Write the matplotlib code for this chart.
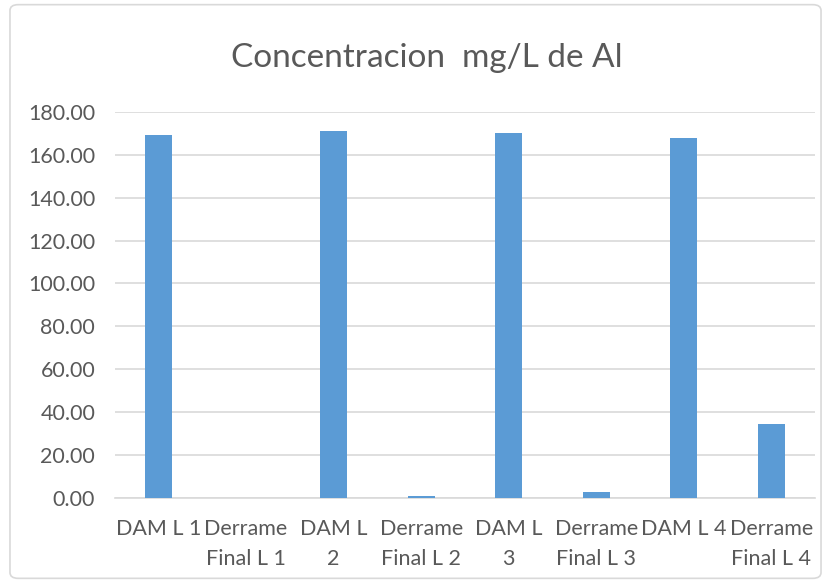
import matplotlib
matplotlib.use("Agg")
import matplotlib.pyplot as plt
from matplotlib.patches import FancyBboxPatch

categories = ["DAM L 1", "Derrame\nFinal L 1", "DAM L\n2", "Derrame\nFinal L 2",
              "DAM L\n3", "Derrame\nFinal L 3", "DAM L 4", "Derrame\nFinal L 4"]
values = [169.3, 0.0, 171.2, 1.0, 170.2, 2.8, 167.9, 34.5]
yticks = [0, 20, 40, 60, 80, 100, 120, 140, 160, 180]

plt.rcParams["font.family"] = ["Lato", "DejaVu Sans"]
grey = "#595959"

fig = plt.figure(figsize=(8.31, 5.83), dpi=100)
ax = fig.add_axes([0.138, 0.146, 0.843, 0.662])

x = range(len(categories))
ax.bar(x, values, width=0.31, color="#5b9bd5", zorder=3)
ax.set_xlim(-0.5, len(categories) - 0.5)
ax.set_ylim(0, 180)
ax.set_yticks(yticks)
ax.set_yticklabels([f"{v:.2f}" for v in yticks], color=grey, fontsize=15.5)
ax.set_xticks(list(x))
ax.set_xticklabels(categories, color=grey, fontsize=15.5, linespacing=1.65)
ax.tick_params(length=0)
ax.tick_params(axis="y", pad=14)
ax.tick_params(axis="x", pad=15)
ax.grid(axis="y", color="#d9d9d9", linewidth=1.2, zorder=0)
for s in ["top", "right", "left"]:
    ax.spines[s].set_visible(False)
ax.spines["bottom"].set_color("#d9d9d9")
ax.spines["bottom"].set_linewidth(1.2)

fig.text(0.514, 0.9, "Concentracion  mg/L de Al", ha="center", va="center",
         fontsize=24, color=grey)

# chart frame
fig.patches.append(FancyBboxPatch((0.012, 0.008), 0.976, 0.984,
                                  boxstyle="round,pad=0,rounding_size=0.01",
                                  transform=fig.transFigure, fill=False,
                                  edgecolor="#d9d9d9", linewidth=1.2))

fig.savefig("out.png", dpi=100)
